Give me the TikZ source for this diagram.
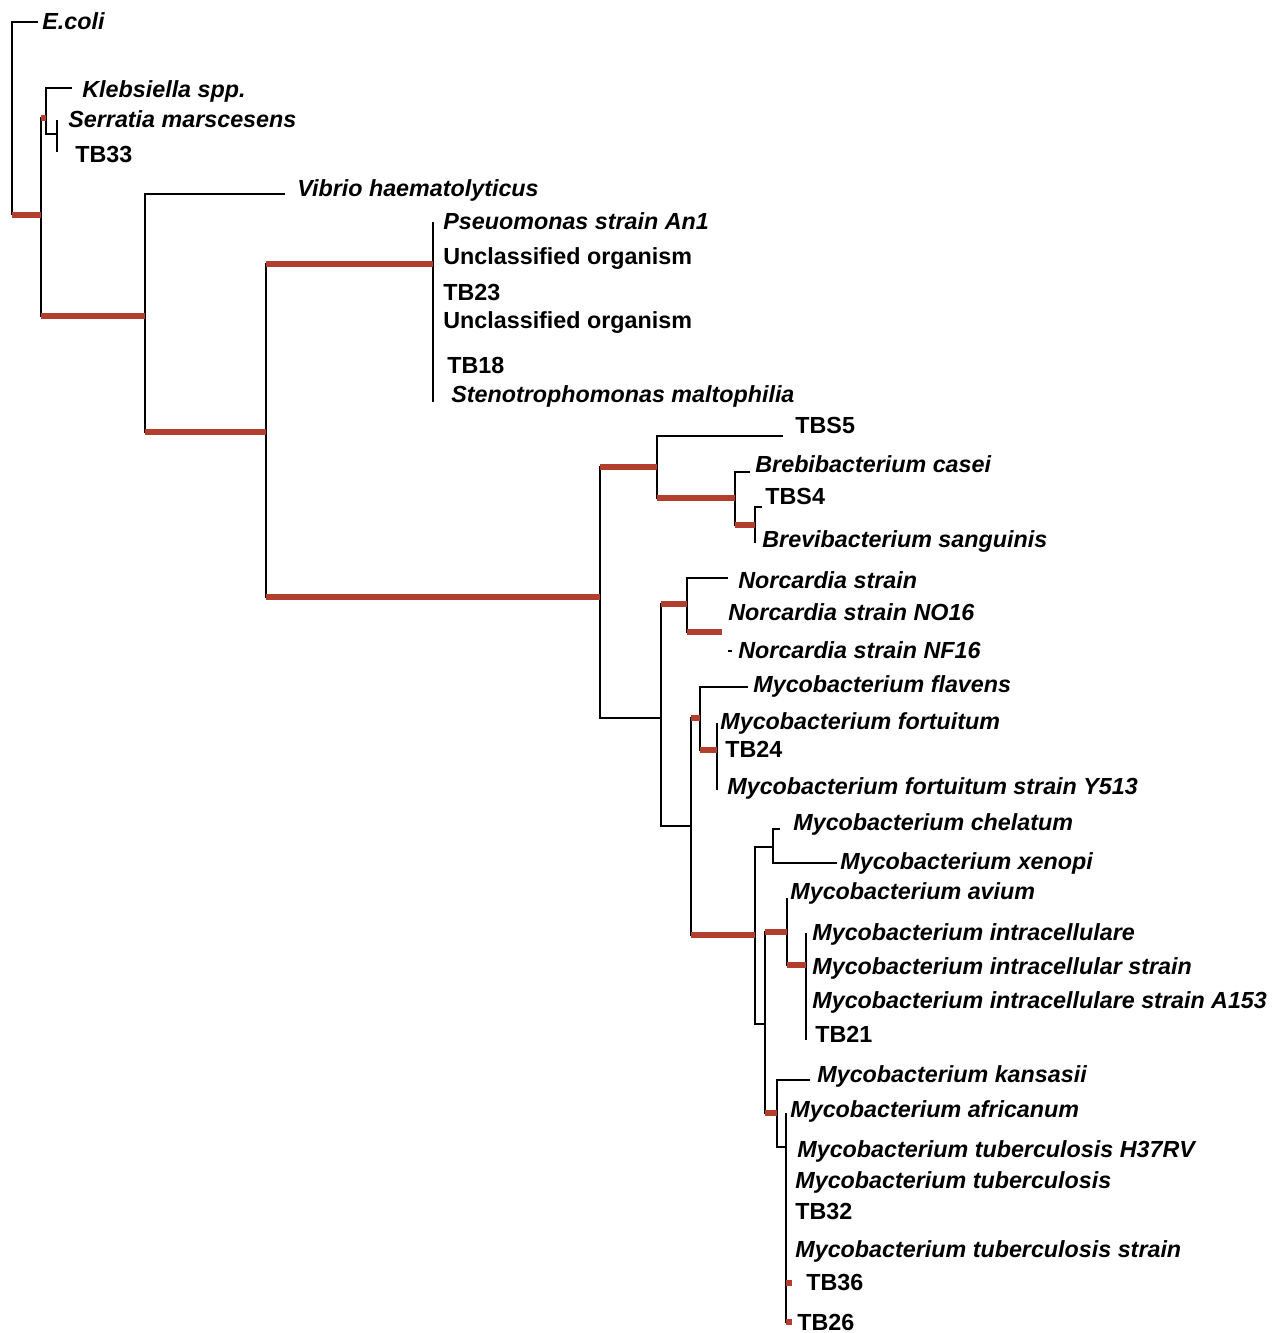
\documentclass[tikz,border=0pt]{standalone}
\usepackage{fontspec}
\setmainfont{Liberation Sans}
\definecolor{branchred}{RGB}{178,62,45}

\begin{document}
\begin{tikzpicture}[x=0.5pt,y=-0.5pt,
    br/.style={draw=black,line width=0.8pt},
    elbow/.style={to path={|- (\tikztotarget)}},
    hl/.style={draw=branchred,line width=2.6pt,
      to path={(\tikztostart |- \tikztotarget) -- (\tikztotarget)}},
    sp/.style={anchor=west,inner sep=0pt,text height=0.72em,text depth=0pt,
      font=\fontsize{11.65}{14}\selectfont\bfseries\itshape},
    st/.style={sp,font=\fontsize{11.65}{14}\selectfont\bfseries}]

  \useasboundingbox (0,0) rectangle (1282,1333);

  % inner nodes of the tree
  \coordinate (r)    at (12,215);
  \coordinate (n1)   at (41,215);
  \coordinate (n2)   at (46,118);
  \coordinate (n2b)  at (57,134);
  \coordinate (n3)   at (145,316);
  \coordinate (n4)   at (266,432);
  \coordinate (poly) at (433,264);
  \coordinate (n5)   at (600,597);
  \coordinate (n6)   at (657,467);
  \coordinate (n7)   at (735,498);
  \coordinate (n8)   at (755,525);
  \coordinate (n9)   at (661,718);
  \coordinate (n10)  at (687,604);
  \coordinate (n11)  at (722,632);
  \coordinate (n12)  at (691,826);
  \coordinate (n13)  at (700,718);
  \coordinate (n14)  at (717,750);
  \coordinate (n15)  at (755,935);
  \coordinate (n16)  at (773,847);
  \coordinate (n18)  at (765,1024);
  \coordinate (n19)  at (787,932);
  \coordinate (n20)  at (806,965);
  \coordinate (n21)  at (777,1113);
  \coordinate (n22)  at (786,1147);

  % tips
  \coordinate (tEcoli) at (38,22);
  \coordinate (tKleb)  at (72,88);
  \coordinate (tSerr)  at (57,120);
  \coordinate (tTB33)  at (57,152);
  \coordinate (tVib)   at (285,194);
  \coordinate (tPse)   at (433,222);
  \coordinate (tSte)   at (433,402);
  \coordinate (tTBS5)  at (783,436);
  \coordinate (tCas)   at (750,472);
  \coordinate (tTBS4)  at (762,507);
  \coordinate (tSan)   at (755,543);
  \coordinate (tNor)   at (728,578);
  \coordinate (tNF)    at (732,651);
  \coordinate (tFla)   at (748,687);
  \coordinate (tFor)   at (717,723);
  \coordinate (tY513)  at (717,790);
  \coordinate (tChe)   at (780,829);
  \coordinate (tXen)   at (837,863);
  \coordinate (tAvi)   at (787,898);
  \coordinate (tInt)   at (806,933);
  \coordinate (tTB21)  at (806,1040);
  \coordinate (tKan)   at (810,1080);
  \coordinate (tAfr)   at (786,1113);
  \coordinate (tTB36)  at (792,1283);
  \coordinate (tTB26)  at (792,1322);

  % labels
  \node[sp] (ecoli) at (42,22)   {E.coli};
  \node[sp] (kleb)  at (82,90)   {Klebsiella spp.};
  \node[sp] (serr)  at (68,120)  {Serratia marscesens};
  \node[st] (tb33)  at (75,155)  {TB33};
  \node[sp] (vib)   at (297,189) {Vibrio haematolyticus};
  \node[sp] (pse)   at (443,222) {Pseuomonas strain An1};
  \node[st] (unc1)  at (443,257) {Unclassified organism};
  \node[st] (tb23)  at (443,293) {TB23};
  \node[st] (unc2)  at (443,321) {Unclassified organism};
  \node[st] (tb18)  at (447,366) {TB18};
  \node[sp] (ste)   at (451,395) {Stenotrophomonas maltophilia};
  \node[st] (tbs5)  at (795,426) {TBS5};
  \node[sp] (cas)   at (755,465) {Brebibacterium casei};
  \node[st] (tbs4)  at (765,497) {TBS4};
  \node[sp] (san)   at (762,540) {Brevibacterium sanguinis};
  \node[sp] (nor)   at (738,581) {Norcardia strain};
  \node[sp] (no16)  at (728,613) {Norcardia strain NO16};
  \node[sp] (nf16)  at (738,651) {Norcardia strain NF16};
  \node[sp] (fla)   at (753,685) {Mycobacterium flavens};
  \node[sp] (mfor)  at (720,722) {Mycobacterium fortuitum};
  \node[st] (tb24)  at (725,750) {TB24};
  \node[sp] (y513)  at (727,787) {Mycobacterium fortuitum strain Y513};
  \node[sp] (che)   at (793,823) {Mycobacterium chelatum};
  \node[sp] (xen)   at (840,862) {Mycobacterium xenopi};
  \node[sp] (avi)   at (790,892) {Mycobacterium avium};
  \node[sp] (mint)  at (812,933) {Mycobacterium intracellulare};
  \node[sp] (mins)  at (812,967) {Mycobacterium intracellular strain};
  \node[sp] (a153)  at (812,1001) {Mycobacterium intracellulare strain A153};
  \node[st] (tb21)  at (815,1035) {TB21};
  \node[sp] (kan)   at (817,1075) {Mycobacterium kansasii};
  \node[sp] (afr)   at (790,1110) {Mycobacterium africanum};
  \node[sp] (h37)   at (797,1150) {Mycobacterium tuberculosis H37RV};
  \node[sp] (tub)   at (795,1181) {Mycobacterium tuberculosis};
  \node[st] (tb32)  at (795,1212) {TB32};
  \node[sp] (mstr)  at (795,1250) {Mycobacterium tuberculosis strain};
  \node[st] (tb36)  at (806,1283) {TB36};
  \node[st] (tb26)  at (797,1323) {TB26};

  % branches
  \path[br]
    (r)    edge[elbow] (tEcoli) edge[elbow] (n1)
    (n1)   edge[elbow] (n2)     edge[elbow] (n3)
    (n2)   edge[elbow] (tKleb)  edge[elbow] (n2b)
    (n2b)  edge[elbow] (tSerr)  edge[elbow] (tTB33)
    (n3)   edge[elbow] (tVib)   edge[elbow] (n4)
    (n4)   edge[elbow] (poly)   edge[elbow] (n5)
    (poly) edge[elbow] (tPse)   edge[elbow] (tSte)
    (n5)   edge[elbow] (n6)     edge[elbow] (n9)
    (n6)   edge[elbow] (tTBS5)  edge[elbow] (n7)
    (n7)   edge[elbow] (tCas)   edge[elbow] (n8)
    (n8)   edge[elbow] (tTBS4)  edge[elbow] (tSan)
    (n9)   edge[elbow] (n10)    edge[elbow] (n12)
    (n10)  edge[elbow] (tNor)   edge[elbow] (n11)
    (n12)  edge[elbow] (n13)    edge[elbow] (n15)
    (n13)  edge[elbow] (tFla)   edge[elbow] (n14)
    (n14)  edge[elbow] (tFor)   edge[elbow] (tY513)
    (n15)  edge[elbow] (n16)    edge[elbow] (n18)
    (n16)  edge[elbow] (tChe)   edge[elbow] (tXen)
    (n18)  edge[elbow] (n19)    edge[elbow] (n21)
    (n19)  edge[elbow] (tAvi)   edge[elbow] (n20)
    (n20)  edge[elbow] (tInt)   edge[elbow] (tTB21)
    (n21)  edge[elbow] (tKan)   edge[elbow] (n22)
    (n22)  edge[elbow] (tAfr)   edge[elbow] (tTB26);
  \draw[br] (tNF) -- ++(-4,0);

  % strongly supported branches
  \path[hl]
    (r)   edge (n1)
    (n1)  edge (n2)   edge (n3)
    (n3)  edge (n4)
    (n4)  edge (poly) edge (n5)
    (n5)  edge (n6)
    (n6)  edge (n7)
    (n7)  edge (n8)
    (n9)  edge (n10)
    (n10) edge (n11)
    (n12) edge (n13) edge (n15)
    (n13) edge (n14)
    (n18) edge (n19) edge (n21)
    (n19) edge (n20)
    (n22) edge (tTB36) edge (tTB26);

\end{tikzpicture}
\end{document}
